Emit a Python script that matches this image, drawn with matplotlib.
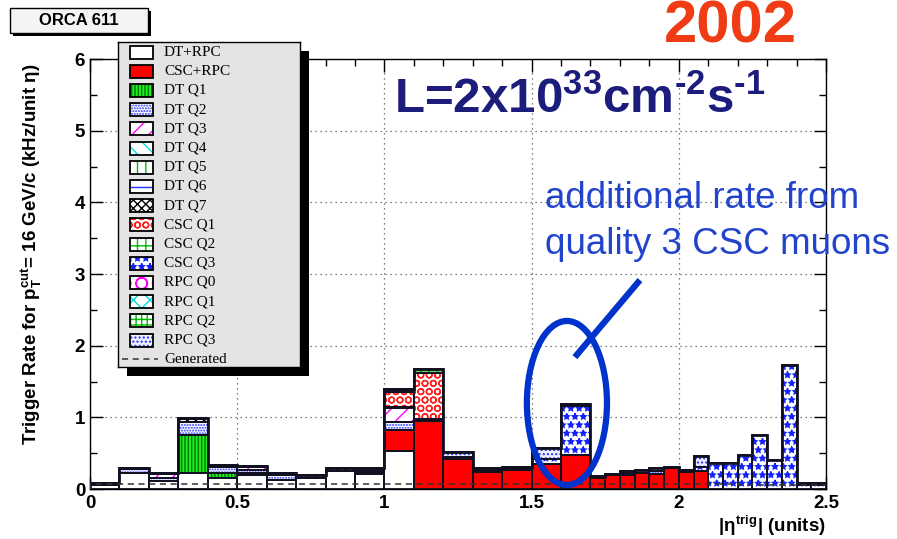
import numpy as np
import matplotlib
matplotlib.use("Agg")
import matplotlib.pyplot as plt
from matplotlib.patches import Rectangle, Ellipse
from matplotlib.ticker import MultipleLocator

plt.rcParams['font.family'] = ['Liberation Sans', 'DejaVu Sans']
plt.rcParams['mathtext.fontset'] = 'custom'
plt.rcParams['mathtext.rm'] = 'Liberation Sans:bold'
plt.rcParams['mathtext.bf'] = 'Liberation Sans:bold'
plt.rcParams['mathtext.it'] = 'Liberation Sans:bold'
plt.rcParams['hatch.linewidth'] = 1.0

W, H = 897, 539

# |eta| bin edges: 0.1 wide in the barrel/overlap, 0.05 wide in the endcap
edges = [0.0, 0.1, 0.2, 0.3, 0.4, 0.5, 0.6, 0.7, 0.8, 0.9,
         1.0, 1.1, 1.2, 1.3, 1.4, 1.5, 1.6, 1.7,
         1.75, 1.8, 1.85, 1.9, 1.95, 2.0, 2.05, 2.1, 2.15, 2.2,
         2.25, 2.3, 2.35, 2.4, 2.45, 2.5]

# rates in kHz/unit eta, one value per bin (barrel 0-0.9 | 1.0-1.6 | endcap 1.7-2.45)
dt_rpc  = [0.06, 0.23, 0.11, 0.22, 0.16, 0.20, 0.13, 0.15, 0.25, 0.21,
           0.53, 0, 0, 0, 0, 0, 0,
           0, 0, 0, 0, 0, 0, 0, 0, 0, 0, 0, 0, 0, 0, 0, 0]
csc_rpc = [0, 0, 0, 0, 0, 0, 0, 0, 0, 0,
           0.29, 0.95, 0.42, 0.24, 0.26, 0.35, 0.47,
           0.16, 0.19, 0.20, 0.22, 0.21, 0.29, 0.24, 0.25, 0, 0, 0, 0, 0, 0, 0, 0]
dt_q1   = [0, 0, 0, 0.53, 0.06, 0.02, 0, 0, 0, 0,
           0, 0, 0, 0, 0, 0, 0,
           0, 0, 0, 0, 0, 0, 0, 0, 0, 0, 0, 0, 0, 0, 0, 0]
dt_q2   = [0, 0.05, 0.05, 0.18, 0.09, 0.05, 0.06, 0, 0, 0.03,
           0.12, 0, 0, 0, 0, 0, 0,
           0, 0, 0, 0, 0.04, 0, 0, 0, 0, 0, 0, 0, 0, 0, 0, 0]
dt_q3   = [0, 0, 0.05, 0, 0, 0.04, 0, 0, 0, 0.03,
           0.19, 0, 0, 0, 0, 0, 0,
           0, 0, 0, 0, 0, 0, 0, 0, 0, 0, 0, 0, 0, 0, 0, 0]
dt_q4   = [0, 0, 0, 0, 0, 0, 0, 0, 0, 0,
           0, 0, 0, 0.01, 0.01, 0, 0,
           0, 0, 0, 0, 0, 0, 0, 0, 0, 0, 0, 0, 0, 0, 0, 0]
dt_q5   = [0, 0, 0, 0.01, 0, 0, 0, 0, 0, 0,
           0, 0, 0, 0, 0, 0, 0,
           0, 0, 0, 0, 0, 0, 0, 0, 0, 0, 0, 0, 0, 0, 0, 0]
dt_q6   = [0.01, 0, 0, 0, 0, 0, 0, 0, 0, 0.01,
           0, 0, 0, 0, 0, 0, 0,
           0, 0, 0.01, 0, 0, 0, 0, 0, 0, 0, 0, 0, 0, 0, 0, 0]
dt_q7   = [0, 0.01, 0.01, 0.04, 0.01, 0.01, 0.04, 0.04, 0.04, 0.01,
           0.02, 0.03, 0.03, 0.02, 0.02, 0, 0,
           0, 0, 0.03, 0.01, 0, 0.01, 0.01, 0, 0, 0, 0, 0, 0, 0, 0, 0]
csc_q1  = [0, 0, 0, 0, 0, 0, 0, 0, 0, 0,
           0.20, 0.64, 0, 0, 0, 0, 0,
           0, 0, 0, 0, 0, 0, 0, 0, 0, 0, 0, 0, 0, 0, 0, 0]
csc_q2  = [0, 0, 0, 0, 0, 0, 0, 0, 0, 0,
           0.03, 0.05, 0, 0.01, 0, 0, 0,
           0, 0, 0.01, 0, 0, 0, 0, 0, 0, 0, 0, 0, 0, 0, 0, 0]
csc_q3  = [0, 0, 0, 0, 0, 0, 0, 0, 0, 0,
           0, 0, 0, 0, 0, 0.07, 0.69,
           0, 0, 0, 0, 0, 0, 0, 0.06, 0.36, 0.36, 0.48, 0.76, 0.41, 1.73, 0.06, 0.06]
rpc_q0  = [0, 0, 0, 0, 0, 0, 0, 0, 0, 0.01,
           0, 0, 0, 0, 0, 0, 0,
           0, 0, 0, 0, 0, 0, 0, 0, 0, 0, 0, 0, 0, 0, 0, 0]
rpc_q1  = [0, 0, 0, 0, 0, 0, 0, 0, 0, 0,
           0, 0, 0, 0.02, 0.02, 0, 0,
           0, 0, 0, 0, 0, 0, 0, 0, 0, 0, 0, 0, 0, 0, 0, 0]
rpc_q2  = [0, 0, 0, 0.01, 0, 0, 0, 0, 0, 0,
           0.01, 0, 0, 0, 0, 0, 0,
           0, 0, 0, 0, 0, 0, 0, 0, 0, 0, 0, 0, 0, 0, 0, 0]
rpc_q3  = [0.02, 0.01, 0, 0, 0.01, 0, 0, 0, 0.01, 0,
           0, 0, 0.06, 0, 0, 0.15, 0.02,
           0.02, 0.02, 0, 0.03, 0.05, 0.01, 0.01, 0.15, 0, 0, 0, 0, 0, 0, 0.02, 0.02]
generated = [0.07, 0.07, 0.07, 0.07, 0.07, 0.07, 0.07, 0.07, 0.07, 0.07,
             0.07, 0.07, 0.07, 0.07, 0.07, 0.07, 0.07,
             0.065, 0.065, 0.065, 0.065, 0.065, 0.065, 0.065, 0.065, 0.065, 0.065,
             0.06, 0.06, 0.06, 0.06, 0.055, 0.055]

# stack order, legend label, fill colour, hatch, hatch colour
layers = [
    ("DT+RPC",  dt_rpc,  "white",   None,      "black"),
    ("CSC+RPC", csc_rpc, "#ff0000", None,      "black"),
    ("DT Q1",   dt_q1,   "#22ee22", "|||||",   "#007700"),
    ("DT Q2",   dt_q2,   "white",   "......",  "#2233ff"),
    ("DT Q3",   dt_q3,   "white",   "//",      "#ff00ff"),
    ("DT Q4",   dt_q4,   "white",   "\\\\",    "#00dddd"),
    ("DT Q5",   dt_q5,   "white",   "||",      "#00bb00"),
    ("DT Q6",   dt_q6,   "white",   "--",      "#2233ff"),
    ("DT Q7",   dt_q7,   "white",   "xxxx",    "black"),
    ("CSC Q1",  csc_q1,  "white",   "OO",      "#ff2020"),
    ("CSC Q2",  csc_q2,  "white",   "++",      "#00bb00"),
    ("CSC Q3",  csc_q3,  "white",   "**",      "#1122ff"),
    ("RPC Q0",  rpc_q0,  "white",   "O",       "#ff00ff"),
    ("RPC Q1",  rpc_q1,  "white",   "xx",      "#00dddd"),
    ("RPC Q2",  rpc_q2,  "white",   "+++",     "#00bb00"),
    ("RPC Q3",  rpc_q3,  "#eeeeff", "....",    "#2233ff"),
]

edges_a = np.array(edges)
left = edges_a[:-1]
width = np.diff(edges_a)

fig = plt.figure(figsize=(W / 100, H / 100), dpi=100)
ax = fig.add_axes([90 / W, 1 - 489 / H, 736 / W, 430 / H])
ax.set_zorder(0)

bottom = np.zeros(len(left))
for name, vals, face, hatch, hcol in layers:
    v = np.array(vals, dtype=float)
    m = v > 0
    ax.bar(left[m], v[m], width=width[m], bottom=bottom[m], align="edge",
           facecolor=face, hatch=hatch, edgecolor=hcol, linewidth=0, zorder=2)
    ax.bar(left[m], v[m], width=width[m], bottom=bottom[m], align="edge",
           fill=False, edgecolor="#101020", linewidth=1.3, zorder=3)
    bottom = bottom + v

ax.stairs(bottom, edges_a, color="#101020", linewidth=2.0, zorder=4)
ax.stairs(generated, edges_a, color="#333333", linewidth=1.1,
          linestyle=(0, (4, 3)), zorder=5)

ax.set_xlim(0, 2.5)
ax.set_ylim(0, 6)
ax.xaxis.set_major_locator(MultipleLocator(0.5))
ax.xaxis.set_minor_locator(MultipleLocator(0.1))
ax.yaxis.set_major_locator(MultipleLocator(1))
ax.yaxis.set_minor_locator(MultipleLocator(0.5))
ax.xaxis.set_major_formatter(plt.FuncFormatter(lambda v, p: f"{v:g}"))
ax.tick_params(which="both", direction="in", top=True, right=True,
               labelsize=13.5, width=1, color="black")
ax.tick_params(which="major", length=9)
ax.tick_params(which="minor", length=5)
for lab in ax.get_xticklabels() + ax.get_yticklabels():
    lab.set_fontweight("bold")
ax.tick_params(axis="x", pad=4)
ax.grid(True, which="major", linestyle=(0, (1, 3)), color="#555555", linewidth=0.9)
ax.set_axisbelow(True)
for sp in ax.spines.values():
    sp.set_linewidth(1.0)

ax.set_ylabel(r"Trigger Rate for $\mathbf{p_{T}^{cut}}$= 16 GeV/c (kHz/unit $\eta$)",
              fontsize=13.5, fontweight="bold")
ax.yaxis.set_label_coords(-0.062, 0.545)
ax.set_xlabel(r"|$\eta^{\mathbf{trig}}$| (units)", fontsize=13.5,
              fontweight="bold", loc="right", labelpad=2)

# circled endcap excess and pointer
ax.add_patch(Ellipse((1.62, 1.20), 0.272, 2.29, fill=False,
                     edgecolor="#0033cc", linewidth=4.5, zorder=6))
ax.plot([1.647, 1.868], [1.84, 2.915], color="#0033cc", linewidth=4.5,
        solid_capstyle="butt", zorder=6, clip_on=False)

fig.text(545 / W, 1 - 198 / H, "additional rate from", color="#2244cc",
         fontsize=26.5, ha="left", va="center")
fig.text(545 / W, 1 - 245 / H, "quality 3 CSC muons", color="#2244cc",
         fontsize=26.5, ha="left", va="center")
fig.text(580 / W, 1 - 100 / H,
         r"L=2x10$^{\mathbf{33}}$cm$^{\text{-2}}$s$^{\text{-1}}$",
         color="#1c1c7c", fontsize=35.5, fontweight="bold", ha="center", va="center")
fig.text(730 / W, 1 - 27 / H, "2002", color="#f03c14", fontsize=43,
         fontweight="bold", ha="center", va="center")

# ORCA label box with drop shadow
fig.patches.append(Rectangle((13 / W, 1 - 36 / H), 138 / W, 25 / H,
                             transform=fig.transFigure, facecolor="black",
                             edgecolor="none", zorder=1))
fig.patches.append(Rectangle((10 / W, 1 - 33 / H), 138 / W, 25 / H,
                             transform=fig.transFigure, facecolor="#f4f4f4",
                             edgecolor="black", linewidth=1, zorder=1.5))
fig.text(79 / W, 1 - 20.5 / H, "ORCA 611", fontsize=12, fontweight="bold",
         ha="center", va="center", zorder=2)

# legend panel
lx0, ly0, lx1, ly1 = 118, 42, 300, 367
fig.patches.append(Rectangle(((lx0 + 9) / W, 1 - (ly1 + 9) / H),
                             (lx1 - lx0) / W, (ly1 - ly0) / H,
                             transform=fig.transFigure, facecolor="black",
                             edgecolor="none", zorder=1))
lax = fig.add_axes([lx0 / W, 1 - ly1 / H, (lx1 - lx0) / W, (ly1 - ly0) / H])
lax.set_zorder(2)
lax.set_xlim(0, lx1 - lx0)
lax.set_ylim(ly1 - ly0, 0)
lax.set_facecolor("#e4e4e4")
lax.set_xticks([])
lax.set_yticks([])
for sp in lax.spines.values():
    sp.set_linewidth(1.0)

step = 19.2
for i, (name, vals, face, hatch, hcol) in enumerate(layers):
    yc = 10 + i * step
    lax.add_patch(Rectangle((12, yc - 6.5), 23, 13, facecolor=face, hatch=hatch,
                            edgecolor=hcol, linewidth=0))
    lax.add_patch(Rectangle((12, yc - 6.5), 23, 13, fill=False,
                            edgecolor="black", linewidth=1.3))
    lax.text(46, yc, name, fontsize=11, family="Liberation Serif",
             ha="left", va="center")
yc = 10 + len(layers) * step
lax.plot([4, 40], [yc, yc], color="#333333", linewidth=1.1, linestyle=(0, (4, 3)))
lax.text(46, yc, "Generated", fontsize=11, family="Liberation Serif",
         ha="left", va="center")

fig.savefig("out.png", dpi=100)
